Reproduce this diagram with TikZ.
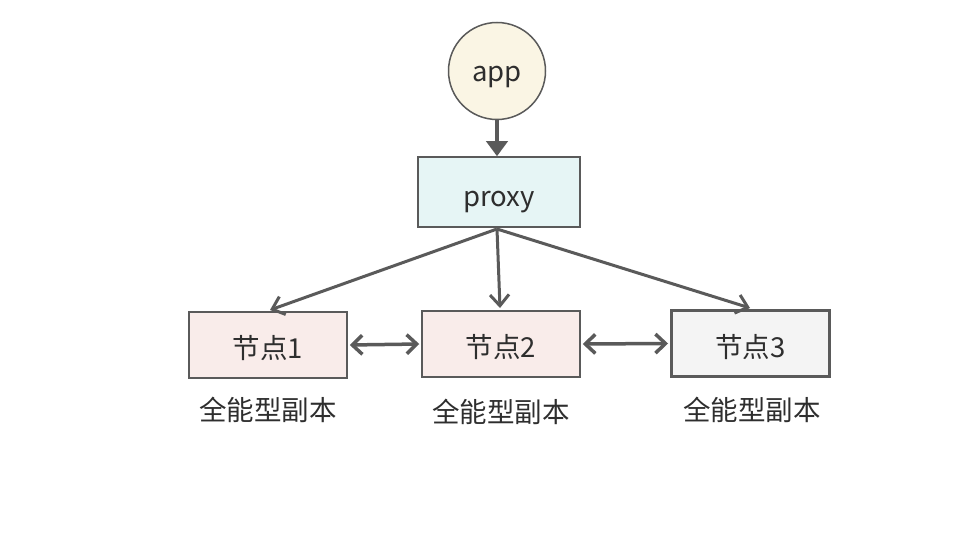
\documentclass[tikz,border=0pt]{standalone}
\usepackage{fontspec}
\setmainfont{Noto Sans CJK SC}
\usetikzlibrary{arrows.meta,calc}
\definecolor{edge}{HTML}{5A5A5A}
\definecolor{txt}{HTML}{2E2E2E}
\definecolor{appfill}{HTML}{FAF5E4}
\definecolor{proxyfill}{HTML}{E6F5F5}
\definecolor{nodefill}{HTML}{F9ECEA}
\definecolor{greyfill}{HTML}{F4F4F4}
\tikzset{
  box/.style={draw=edge, line width=1.5pt, minimum width=#1, inner sep=0pt, text=txt, font=\fontsize{27.5}{32}\selectfont},
  box/.default=158pt,
  latin/.style={text height=#1, text depth=6pt},
  cjk/.style={text height=29pt, text depth=2pt},
  captxt/.style={text=txt, font=\fontsize{27.5}{32}\selectfont, inner sep=0pt},
  openarr/.style={draw=edge, line width=3pt, -{Straight Barb[length=11pt,width=19pt,line width=3pt]}},
  botharr/.style={draw=edge, line width=3.5pt, {Straight Barb[length=10pt,width=19pt,line width=3.5pt]}-{Straight Barb[length=10pt,width=19pt,line width=3.5pt]}},
  filledarr/.style={draw=edge, line width=4.5pt, -{Triangle[length=15pt,width=21pt]}}
}
\begin{document}
\begin{tikzpicture}[x=1pt,y=-1pt]
\useasboundingbox (0,0) rectangle (968,534);
\node[circle, draw=edge, line width=1.5pt, fill=appfill, minimum size=97pt, inner sep=0pt, text=txt, font=\fontsize{27.5}{32}\selectfont, latin=27pt] (app) at (497,71) {app};
\node[box=162pt, minimum height=70pt, fill=proxyfill, latin=36pt] (proxy) at (499,192) {proxy};
\node[box=158pt, minimum height=66pt, fill=nodefill, cjk] (n1) at (268,345) {节点1};
\node[box=158pt, minimum height=66pt, fill=nodefill, cjk] (n2) at (501,344) {节点2};
\node[box=158pt, minimum height=66pt, fill=greyfill, line width=3pt, cjk] (n3) at (750.5,343.5) {节点3};
\node[captxt] (c1) at (268,410) {全能型副本};
\node[captxt] (c2) at (501,412) {全能型副本};
\node[captxt] (c3) at (752,410) {全能型副本};
\coordinate (pb) at (497,229);
\coordinate (t1) at (270,310);
\coordinate (t2) at (500,308);
\coordinate (t3) at (750,308);
\draw[filledarr] (app.south) -- (app.south |- proxy.north);
\draw[openarr] (pb) -- (t1);
\draw[openarr] (pb) -- (t2);
\draw[openarr] (pb) -- (t3);
\draw[botharr] ($(n1.east)+(2,0)$) -- ($(n2.west)+(-2,0)$);
\draw[botharr] ($(n2.east)+(2,0)$) -- ($(n3.west)+(-2,0)$);
\end{tikzpicture}
\end{document}
